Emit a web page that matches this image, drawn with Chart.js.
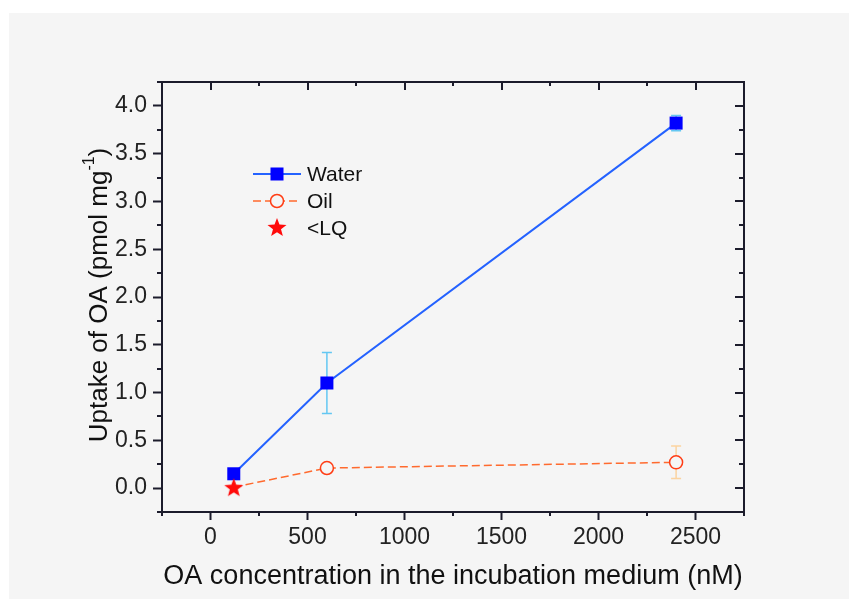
<!DOCTYPE html>
<html>
<head>
<meta charset="utf-8">
<script src="https://cdn.jsdelivr.net/npm/chart.js@4/dist/chart.umd.min.js"></script>
<style>
  html, body { margin: 0; padding: 0; background: #ffffff; }
  #wrap { width: 849px; height: 599px; }
</style>
</head>
<body>
<div id="wrap"><canvas id="chart" width="849" height="599"></canvas></div>
<script>
// concentrations (nM)
const concWater = [120, 600, 2400];
const concOil = [120, 600, 2400];
const concLQ = [120];

// uptake (pmol mg-1) and standard deviations
const water = [0.15, 1.10, 3.82];
const waterErr = [0, 0.32, 0.08];
const oil = [0.01, 0.21, 0.27];
const oilErr = [0, 0, 0.17];
const belowLQ = [0.01];

const xTicks = [0, 500, 1000, 1500, 2000, 2500];
const yTicks = [0, 0.5, 1.0, 1.5, 2.0, 2.5, 3.0, 3.5, 4.0];

const FONT = "'Liberation Sans', Arial, sans-serif";
const AXIS = '#1c1c2c';

// filled five point star for the <LQ marker
function makeStar(r, color) {
    const c = document.createElement('canvas');
    c.width = c.height = Math.ceil(r * 2 + 2);
    const g = c.getContext('2d');
    const cx = c.width / 2, cy = c.height / 2 + r * 0.1;
    g.beginPath();
    for (let i = 0; i < 10; i++) {
        const rad = i % 2 === 0 ? r : r * 0.42;
        const a = -Math.PI / 2 + i * Math.PI / 5;
        g.lineTo(cx + rad * Math.cos(a), cy + rad * Math.sin(a));
    }
    g.closePath();
    g.fillStyle = color;
    g.fill();
    return c;
}
const starImg = makeStar(10, '#ff0a0a');

const toXY = (xs, ys) => xs.map((x, i) => ({ x: x, y: ys[i] }));

const background = {
    id: 'background',
    beforeDraw(chart) {
        const ctx = chart.ctx;
        ctx.save();
        ctx.fillStyle = '#ffffff';
        ctx.fillRect(0, 0, chart.width, chart.height);
        ctx.fillStyle = '#f5f5f5';
        ctx.fillRect(9, 13, chart.width - 9, chart.height - 13);
        ctx.restore();
    }
};

const errorBars = {
    id: 'errorBars',
    beforeDatasetsDraw(chart) {
        const ctx = chart.ctx;
        const y = chart.scales.y;
        const sets = [
            { idx: 0, err: waterErr, color: '#63c7f2' },
            { idx: 1, err: oilErr, color: '#fbd3a0' }
        ];
        ctx.save();
        ctx.lineWidth = 1.5;
        sets.forEach(s => {
            const ds = chart.data.datasets[s.idx];
            const meta = chart.getDatasetMeta(s.idx);
            ds.data.forEach((p, i) => {
                if (!s.err[i]) return;
                const px = meta.data[i].x;
                const top = y.getPixelForValue(p.y + s.err[i]);
                const bot = y.getPixelForValue(p.y - s.err[i]);
                ctx.strokeStyle = s.color;
                ctx.beginPath();
                ctx.moveTo(px, top); ctx.lineTo(px, bot);
                ctx.moveTo(px - 5, top); ctx.lineTo(px + 5, top);
                ctx.moveTo(px - 5, bot); ctx.lineTo(px + 5, bot);
                ctx.stroke();
            });
        });
        ctx.restore();
    }
};

// frame, mirrored ticks, minor ticks, y title and legend
const frame = {
    id: 'frame',
    afterDraw(chart) {
        const ctx = chart.ctx;
        const a = chart.chartArea;
        const xs = chart.scales.x, ys = chart.scales.y;
        ctx.save();
        ctx.strokeStyle = AXIS;
        ctx.lineWidth = 2;
        ctx.strokeRect(a.left, a.top, a.right - a.left, a.bottom - a.top);

        ctx.beginPath();
        for (let v = -250; v <= 2750; v += 250) {
            const px = Math.round(xs.getPixelForValue(v));
            const major = xTicks.includes(v);
            ctx.moveTo(px, a.top); ctx.lineTo(px, a.top + (major ? 8 : 4));
            if (!major) { ctx.moveTo(px, a.bottom); ctx.lineTo(px, a.bottom + 4); }
        }
        for (let v = -0.25; v <= 4.26; v += 0.25) {
            const py = Math.round(ys.getPixelForValue(v));
            const major = yTicks.some(t => Math.abs(t - v) < 1e-6);
            ctx.moveTo(a.right, py); ctx.lineTo(a.right - (major ? 9 : 5), py);
            if (!major) { ctx.moveTo(a.left, py); ctx.lineTo(a.left - 5, py); }
        }
        ctx.stroke();

        // y axis title with superscript
        ctx.fillStyle = '#111111';
        ctx.translate(97, (a.top + a.bottom) / 2 - 2);
        ctx.rotate(-Math.PI / 2);
        const main = 'Uptake of OA (pmol mg';
        const sup = '-1';
        const close = ')';
        ctx.font = '26px ' + FONT;
        const w1 = ctx.measureText(main).width;
        const w3 = ctx.measureText(close).width;
        ctx.font = '16px ' + FONT;
        const w2 = ctx.measureText(sup).width;
        let x0 = -(w1 + w2 + w3) / 2;
        ctx.textBaseline = 'alphabetic';
        ctx.font = '26px ' + FONT;
        ctx.fillText(main, x0, 10);
        ctx.font = '16px ' + FONT;
        ctx.fillText(sup, x0 + w1, -3);
        ctx.font = '26px ' + FONT;
        ctx.fillText(close, x0 + w1 + w2, 10);
        ctx.restore();

        // legend
        ctx.save();
        const items = chart.data.datasets;
        const rows = [174, 201, 228];
        ctx.font = '21px ' + FONT;
        ctx.textBaseline = 'middle';
        items.forEach((ds, i) => {
            const yy = rows[i];
            ctx.save();
            if (ds.showLine !== false) {
                ctx.strokeStyle = ds.borderColor;
                ctx.lineWidth = ds.borderWidth;
                ctx.setLineDash(ds.borderDash || []);
                ctx.beginPath();
                ctx.moveTo(253, yy); ctx.lineTo(301, yy);
                ctx.stroke();
            }
            ctx.restore();
            if (ds.pointStyle === 'rect') {
                ctx.fillStyle = ds.pointBackgroundColor;
                ctx.fillRect(277 - 6.5, yy - 6.5, 13, 13);
            } else if (ds.pointStyle === 'circle') {
                ctx.fillStyle = '#f5f5f5';
                ctx.strokeStyle = ds.pointBorderColor;
                ctx.lineWidth = 1.5;
                ctx.beginPath();
                ctx.arc(277, yy, 6.5, 0, Math.PI * 2);
                ctx.fill(); ctx.stroke();
            } else {
                ctx.drawImage(starImg, 277 - starImg.width / 2, yy - starImg.height / 2 - 1);
            }
            ctx.fillStyle = '#111111';
            ctx.fillText(ds.label, 307, yy + 1);
        });
        ctx.restore();
    }
};

new Chart(document.getElementById('chart'), {
    type: 'scatter',
    data: {
        datasets: [
            {
                label: 'Water',
                data: toXY(concWater, water),
                showLine: true,
                borderColor: '#2462ff',
                borderWidth: 2,
                pointStyle: 'rect',
                pointRadius: 9.2,
                pointBackgroundColor: '#0000ff',
                pointBorderColor: '#0000ff',
                pointBorderWidth: 0,
                order: 2
            },
            {
                label: 'Oil',
                data: toXY(concOil, oil),
                showLine: true,
                borderColor: '#ff6a2e',
                borderWidth: 1.5,
                borderDash: [8, 4],
                pointStyle: 'circle',
                pointRadius: [0, 6.5, 6.5],
                pointBackgroundColor: '#f5f5f5',
                pointBorderColor: '#ff3c14',
                pointBorderWidth: 1.5,
                order: 1
            },
            {
                label: '<LQ',
                data: toXY(concLQ, belowLQ),
                showLine: false,
                pointStyle: starImg,
                pointRadius: 10,
                order: 0
            }
        ]
    },
    options: {
        responsive: false,
        animation: false,
        events: [],
        layout: { padding: { left: 0, top: 82, right: 105, bottom: 0 } },
        plugins: {
            legend: { display: false },
            tooltip: { enabled: false }
        },
        scales: {
            x: {
                type: 'linear',
                min: -250,
                max: 2750,
                afterBuildTicks: s => { s.ticks = xTicks.map(v => ({ value: v })); },
                afterFit: s => { s.height = 87; },
                grid: { drawOnChartArea: false, tickLength: 8, tickWidth: 2, tickColor: AXIS },
                border: { color: AXIS, width: 2 },
                ticks: {
                    color: '#222222',
                    font: { family: FONT, size: 23 },
                    padding: 4,
                    maxRotation: 0,
                    callback: v => String(v)
                },
                title: {
                    display: true,
                    text: 'OA concentration in the incubation medium (nM)',
                    color: '#111111',
                    font: { family: FONT, size: 27 },
                    padding: { top: 0, bottom: 6 }
                }
            },
            y: {
                type: 'linear',
                min: -0.25,
                max: 4.25,
                afterBuildTicks: s => { s.ticks = yTicks.map(v => ({ value: v })); },
                afterFit: s => { s.width = 162; },
                grid: { drawOnChartArea: false, tickLength: 9, tickWidth: 2, tickColor: AXIS },
                border: { color: AXIS, width: 2 },
                ticks: {
                    color: '#222222',
                    font: { family: FONT, size: 23 },
                    padding: 6,
                    callback: v => v.toFixed(1)
                }
            }
        }
    },
    plugins: [background, errorBars, frame]
});
</script>
</body>
</html>
